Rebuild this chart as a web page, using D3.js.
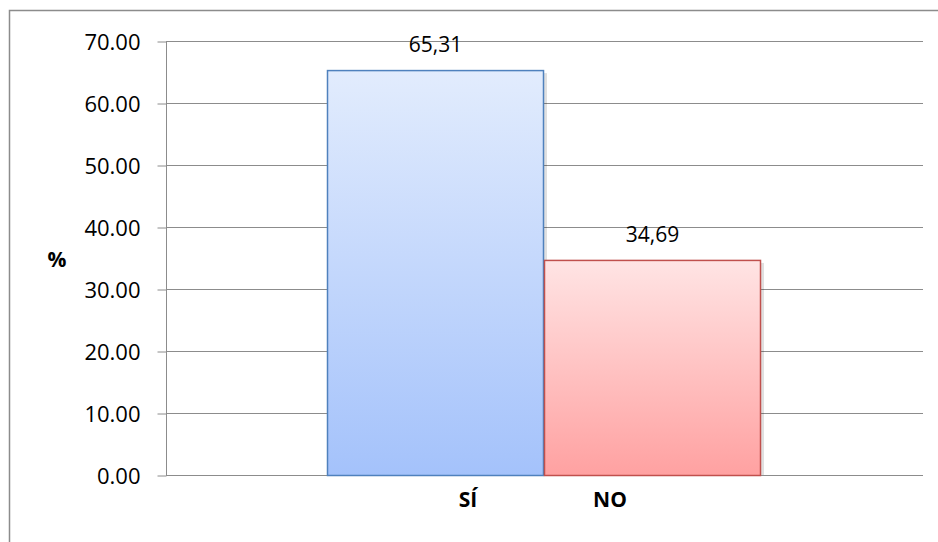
<html>
<head>
<meta charset="utf-8">
<script src="https://d3js.org/d3.v7.min.js"></script>
<style>
body {margin:0; background:white;}
svg text {font-family: "Open Sans", "Liberation Sans", sans-serif; fill:#000;}
</style>
</head>
<body>
<svg width="938" height="542"></svg>
<script>
// data
var categories = ["SÍ", "NO"];
var values = [65.31, 34.69];
var valueLabels = ["65,31", "34,69"];
var yTicks = [0, 10, 20, 30, 40, 50, 60, 70];

var svg = d3.select("svg");

// outer frame
svg.append("rect")
  .attr("x", 9.5).attr("y", 10.5)
  .attr("width", 940).attr("height", 540)
  .attr("fill", "none").attr("stroke", "#8c8c8c").attr("stroke-width", 1.5);

var plotL = 166, plotR = 923, plotT = 41, plotB = 475;

var yScale = d3.scaleLinear().domain([0, 70]).range([plotB, plotT]);
// bars sit side by side in one category group
var xScale = d3.scaleBand().domain(categories).range([327, 761]).padding(0);

var defs = svg.append("defs");
var grads = [["gBlue", "#e2ecfd", "#a4c2fb"], ["gRed", "#ffe4e4", "#ffa1a1"]];
grads.forEach(function(g) {
  var lg = defs.append("linearGradient").attr("id", g[0])
    .attr("x1", 0).attr("y1", 0).attr("x2", 0).attr("y2", 1);
  lg.append("stop").attr("offset", "0%").attr("stop-color", g[1]);
  lg.append("stop").attr("offset", "100%").attr("stop-color", g[2]);
});
var strokes = ["#4f81bd", "#c0504d"];

// gridlines
svg.append("g")
  .selectAll("line").data(yTicks).enter().append("line")
  .attr("x1", plotL).attr("x2", plotR)
  .attr("y1", function(d) {return Math.round(yScale(d)) + 0.5;})
  .attr("y2", function(d) {return Math.round(yScale(d)) + 0.5;})
  .attr("stroke", "#8c8c8c").attr("stroke-width", 1);

// y axis
var yAxis = d3.axisLeft(yScale).tickValues(yTicks).tickSize(9).tickPadding(17)
  .tickFormat(function(d) {return d3.format(".2f")(d);});
var ya = svg.append("g").attr("transform", "translate(" + (plotL + 0.5) + ",0.5)").call(yAxis);
ya.selectAll("path, line").attr("stroke", "#8c8c8c");
ya.select(".domain").attr("d", "M0," + (plotT - 0.5) + "V" + (plotB - 0.5));
ya.selectAll("text").style("font-size", "22px").attr("dy", "0.35em");

// bar shadows
svg.append("g").selectAll("rect").data(values).enter().append("rect")
  .attr("x", function(d, i) {return xScale(categories[i]) + 3;})
  .attr("y", function(d) {return yScale(d) + 3;})
  .attr("width", xScale.bandwidth())
  .attr("height", function(d) {return plotB - yScale(d) - 3;})
  .attr("fill", "#000").attr("opacity", 0.12);

// bars
svg.append("g").selectAll("rect").data(values).enter().append("rect")
  .attr("x", function(d, i) {return xScale(categories[i]) + 0.5;})
  .attr("y", function(d) {return yScale(d) + 0.5;})
  .attr("width", xScale.bandwidth() - 1)
  .attr("height", function(d) {return plotB - yScale(d);})
  .attr("fill", function(d, i) {return "url(#" + grads[i][0] + ")";})
  .attr("stroke", function(d, i) {return strokes[i];})
  .attr("stroke-width", 1.5);

// value labels
svg.append("g").selectAll("text").data(values).enter().append("text")
  .attr("x", function(d, i) {return xScale(categories[i]) + xScale.bandwidth() / 2;})
  .attr("y", function(d) {return yScale(d) - 18;})
  .attr("text-anchor", "middle")
  .style("font-size", "21px")
  .text(function(d, i) {return valueLabels[i];});

// category labels (offset like the original)
var catX = [468, 610];
svg.append("g").selectAll("text").data(categories).enter().append("text")
  .attr("x", function(d, i) {return catX[i];})
  .attr("y", 507)
  .attr("text-anchor", "middle")
  .style("font-size", "21px").style("font-weight", "bold")
  .text(function(d) {return d;});

// y title
svg.append("text").attr("x", 57).attr("y", 267)
  .attr("text-anchor", "middle")
  .style("font-size", "21px").style("font-weight", "bold")
  .text("%");
</script>
</body>
</html>
